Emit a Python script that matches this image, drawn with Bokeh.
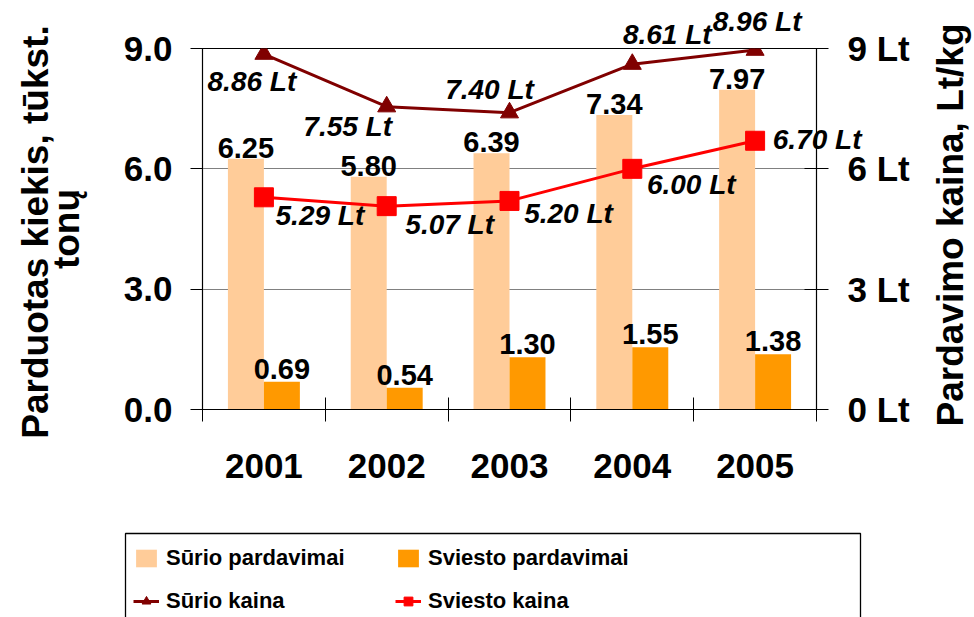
import math
from bokeh.plotting import figure
from bokeh.layouts import column
from bokeh.models import (Range1d, LinearAxis, FixedTicker, NumeralTickFormatter,
                          ColumnDataSource, Legend, LegendItem)
from bokeh.core.properties import value
from bokeh.embed import file_html
from bokeh.resources import INLINE

# ---- data ----
years = ["2001", "2002", "2003", "2004", "2005"]
suris_sales = [6.25, 5.80, 6.39, 7.34, 7.97]
sviestas_sales = [0.69, 0.54, 1.30, 1.55, 1.38]
suris_price = [8.86, 7.55, 7.40, 8.61, 8.96]
sviestas_price = [5.29, 5.07, 5.20, 6.00, 6.70]
left_ticks = [0, 3, 6, 9]
right_ticks = [0, 3, 6, 9]
left_title = ["Parduotas kiekis, tūkst.", "tonų"]
right_title = "Pardavimo kaina, Lt/kg"
series_names = ["Sūrio pardavimai", "Sviesto pardavimai", "Sūrio kaina", "Sviesto kaina"]

# ---- styles ----
FONT = "Liberation Sans"
C_SURIS_BAR = "#FFCC99"
C_SVIEST_BAR = "#FF9900"
C_SURIS_LINE = "#800000"
C_SVIEST_LINE = "#FF0000"
BAR_W = 0.293
# label offsets in screen px (dx, dy; dy positive = down)
suris_lbl_dx = [-12, -39, -20, 35, 2]
suris_lbl_dy = [27, 20, -23, -30, -29]
sviest_lbl_dx = [56, 63, 59, 59, 62]
sviest_lbl_dy = [18, 18, 13, 16, -1]
# axis-title offsets in screen px from the axis line / vertical centre
left_title_dx = [-167, -136]
left_title_dy = [3, 0]
right_title_dx = 134
right_title_dy = -4
# legend frame (screen px inside the legend strip)
LEG_BOX = dict(left=125, right=860, top_gap=13)

n = len(years)
xc = [i + 0.5 for i in range(n)]
x_left = [c - BAR_W / 2 for c in xc]
x_right = [c + BAR_W / 2 for c in xc]
y_mid = (left_ticks[0] + left_ticks[-1]) / 2

W = 974
H_CHART = 520
H_LEG = 97

p = figure(width=W, height=H_CHART, output_backend="svg", toolbar_location=None,
           x_range=Range1d(0, n), y_range=Range1d(left_ticks[0], left_ticks[-1]),
           min_border_left=202, min_border_right=158, min_border_top=48,
           min_border_bottom=H_CHART - 409)
p.extra_y_ranges = {"price": Range1d(right_ticks[0], right_ticks[-1])}

p.outline_line_color = "black"
p.outline_line_width = 1.2
p.background_fill_color = "white"
p.border_fill_color = "white"
p.xgrid.visible = False
p.ygrid.ticker = FixedTicker(ticks=[t for t in left_ticks if left_ticks[0] < t < left_ticks[-1]])
p.ygrid.grid_line_color = "#808080"
p.ygrid.grid_line_width = 1

bsrc = ColumnDataSource(dict(xl=x_left, xr=x_right, s1=suris_sales, s2=sviestas_sales,
                             t1=[f"{v:.2f}" for v in suris_sales],
                             t2=[f"{v:.2f}" for v in sviestas_sales]))
p.vbar(x="xl", top="s1", width=BAR_W, source=bsrc, fill_color=C_SURIS_BAR, line_color=None)
p.vbar(x="xr", top="s2", width=BAR_W, source=bsrc, fill_color=C_SVIEST_BAR, line_color=None)

lsrc = ColumnDataSource(dict(x=xc, p1=suris_price, p2=sviestas_price,
                             t1=[f"{v:.2f} Lt" for v in suris_price],
                             t2=[f"{v:.2f} Lt" for v in sviestas_price],
                             dx1=suris_lbl_dx, dy1=suris_lbl_dy,
                             dx2=sviest_lbl_dx, dy2=sviest_lbl_dy))
p.line(x="x", y="p1", source=lsrc, line_color=C_SURIS_LINE, line_width=3, y_range_name="price")
p.scatter(x="x", y="p1", source=lsrc, marker="triangle", size=18,
          fill_color=C_SURIS_LINE, line_color=C_SURIS_LINE, y_range_name="price")
p.line(x="x", y="p2", source=lsrc, line_color=C_SVIEST_LINE, line_width=3, y_range_name="price")
p.scatter(x="x", y="p2", source=lsrc, marker="square", size=19,
          fill_color=C_SVIEST_LINE, line_color=C_SVIEST_LINE, y_range_name="price")

# bar value labels
p.text(x="xl", y="s1", text="t1", source=bsrc, text_font=value(FONT),
       text_font_style="bold", text_font_size="29px", text_align="center",
       text_baseline="bottom", y_offset=-1, text_color="black", level="overlay")
p.text(x="xr", y="s2", text="t2", source=bsrc, text_font=value(FONT),
       text_font_style="bold", text_font_size="29px", text_align="center",
       text_baseline="bottom", y_offset=-3, text_color="black", level="overlay")
# price labels
p.text(x="x", y="p1", text="t1", source=lsrc, x_offset="dx1", y_offset="dy1",
       y_range_name="price", text_font=value(FONT), text_font_style="bold italic",
       text_font_size="28px", text_align="center", text_baseline="middle",
       text_color="black", level="overlay")
p.text(x="x", y="p2", text="t2", source=lsrc, x_offset="dx2", y_offset="dy2",
       y_range_name="price", text_font=value(FONT), text_font_style="bold italic",
       text_font_size="28px", text_align="center", text_baseline="middle",
       text_color="black", level="overlay")

# axis titles (rotated, reading bottom-to-top)
tsrc = ColumnDataSource(dict(x=[0, 0], y=[y_mid, y_mid], text=left_title,
                             dx=left_title_dx, dy=left_title_dy))
p.text(x="x", y="y", text="text", source=tsrc, x_offset="dx", y_offset="dy",
       angle=math.pi / 2, text_font=value(FONT), text_font_style="bold",
       text_font_size="37px", text_align="center", text_baseline="middle",
       text_color="black", level="overlay")
p.text(x=[n], y=[y_mid], text=[right_title], x_offset=right_title_dx,
       y_offset=right_title_dy, angle=math.pi / 2, text_font=value(FONT),
       text_font_style="bold", text_font_size="37px", text_align="center",
       text_baseline="middle", text_color="black", level="overlay")

# ---- axes ----
TICK_FS = "35px"
ya = p.yaxis[0]
ya.ticker = FixedTicker(ticks=left_ticks)
ya.formatter = NumeralTickFormatter(format="0.0")
ya.major_tick_in = 0
ya.major_tick_out = 12
ya.minor_tick_line_color = None
ya.major_label_standoff = 18
ya.major_label_text_font = FONT
ya.major_label_text_font_style = "bold"
ya.major_label_text_font_size = TICK_FS
ya.major_label_text_color = "black"
ya.axis_line_color = "black"
ya.major_tick_line_color = "black"

ra = LinearAxis(y_range_name="price")
ra.ticker = FixedTicker(ticks=right_ticks)
ra.major_label_overrides = {t: f"{t} Lt" for t in right_ticks}
ra.major_tick_in = 12
ra.major_tick_out = 12
ra.minor_tick_line_color = None
ra.major_label_standoff = 19
ra.major_label_text_font = FONT
ra.major_label_text_font_style = "bold"
ra.major_label_text_font_size = TICK_FS
ra.major_label_text_color = "black"
ra.axis_line_color = "black"
ra.major_tick_line_color = "black"
p.add_layout(ra, "right")

xa = p.xaxis[0]
xa.ticker = FixedTicker(ticks=xc, minor_ticks=list(range(n + 1)))
xa.major_label_overrides = {c: y for c, y in zip(xc, years)}
xa.major_tick_in = 0
xa.major_tick_out = 0
xa.minor_tick_in = 12
xa.minor_tick_out = 12
xa.minor_tick_line_color = "black"
xa.major_label_standoff = 32
xa.major_label_text_font = FONT
xa.major_label_text_font_style = "bold"
xa.major_label_text_font_size = TICK_FS
xa.major_label_text_color = "black"
xa.axis_line_color = "black"

# ---- legend strip (second figure in pixel units; swatch samples lie off-range) ----
q = figure(width=W, height=H_LEG, output_backend="svg", toolbar_location=None,
           x_axis_location=None, y_axis_location=None, min_border=0,
           x_range=Range1d(0, W), y_range=Range1d(0, H_LEG))
q.outline_line_color = None
q.grid.visible = False
q.background_fill_color = "white"
q.border_fill_color = "white"
for fig in (p, q):
    if "frame_align" in fig.properties():
        fig.frame_align = False

# legend frame
q.quad(left=[LEG_BOX["left"]], right=[LEG_BOX["right"]],
       top=[H_LEG - LEG_BOX["top_gap"]], bottom=[-20],
       fill_color="white", line_color="black", line_width=1.3)

off = [-50, -40]
g1 = q.vbar(x=off[:1], top=off[:1], width=5, fill_color=C_SURIS_BAR, line_color=None)
g2 = q.vbar(x=off[:1], top=off[:1], width=5, fill_color=C_SVIEST_BAR, line_color=None)
g3 = q.line(x=off, y=off, line_color=C_SURIS_LINE, line_width=3)
g4 = q.scatter(x=off[:1], y=off[:1], marker="triangle", size=14, fill_color=C_SURIS_LINE,
               line_color=C_SURIS_LINE)
g5 = q.line(x=off, y=off, line_color=C_SVIEST_LINE, line_width=3)
g6 = q.scatter(x=off[:1], y=off[:1], marker="square", size=16, fill_color=C_SVIEST_LINE,
               line_color=C_SVIEST_LINE)

legend = Legend(items=[
    LegendItem(label=series_names[0], renderers=[g1]),
    LegendItem(label=series_names[1], renderers=[g2]),
    LegendItem(label=series_names[2], renderers=[g3, g4]),
    LegendItem(label=series_names[3], renderers=[g5, g6]),
], location=(133, 1), orientation="horizontal", ncols=2)
legend.label_text_font = FONT
legend.label_text_font_style = "bold"
legend.label_text_font_size = "22px"
legend.label_text_color = "black"
legend.glyph_width = 26
legend.glyph_height = 22
legend.label_standoff = 7
legend.label_width = 216
legend.label_height = 30
legend.spacing = 13
legend.padding = 10
legend.margin = 0
legend.border_line_color = None
legend.background_fill_alpha = 0
q.add_layout(legend, "center")

page = column(p, q, spacing=0)
open("out.html", "w").write(file_html(page, INLINE))
